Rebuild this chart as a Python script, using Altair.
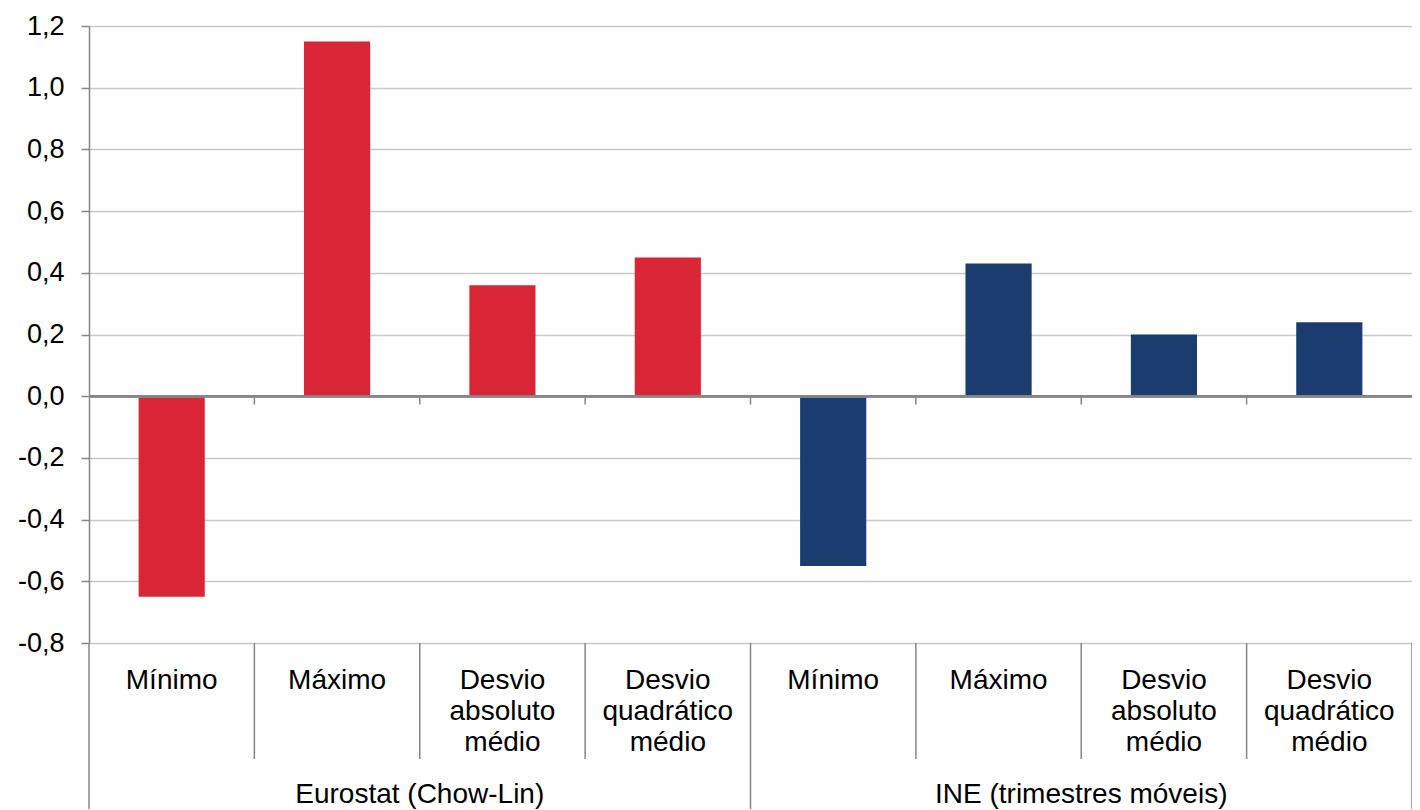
import altair as alt
import pandas as pd

# ---- data ----
categories = ["Mínimo", "Máximo", "Desvio\nabsoluto\nmédio", "Desvio\nquadrático\nmédio",
              "Mínimo", "Máximo", "Desvio\nabsoluto\nmédio", "Desvio\nquadrático\nmédio"]
groups = ["Eurostat (Chow-Lin)"] * 4 + ["INE (trimestres móveis)"] * 4
values = [-0.65, 1.15, 0.36, 0.45, -0.55, 0.43, 0.20, 0.24]
group_names = ["Eurostat (Chow-Lin)", "INE (trimestres móveis)"]
group_colors = ["#DA2536", "#1A3C6E"]
y_ticks = [-0.8, -0.6, -0.4, -0.2, 0.0, 0.2, 0.4, 0.6, 0.8, 1.0, 1.2]

W, H = 1323, 617
FONT = "Liberation Sans"

n = len(categories)
bars = pd.DataFrame({"idx": list(range(n)), "cat": categories, "grp": groups, "value": values})
grp_df = pd.DataFrame({"grp": group_names, "center": [2.0, 6.0]})
inner_b = pd.DataFrame({"b": [i for i in range(1, n) if i % 4 != 0]})
outer_b = pd.DataFrame({"b": [i for i in range(0, n + 1) if i % 4 == 0]})
zero_ticks = pd.DataFrame({"b": list(range(1, n))})

xscale = alt.Scale(domain=[0, n], nice=False, zero=False)
yscale = alt.Scale(domain=[-0.8, 1.2], nice=False, zero=False)

bar_layer = alt.Chart(bars).transform_calculate(
    lo="datum.idx + 0.3", hi="datum.idx + 0.7"
).mark_bar().encode(
    x=alt.X("lo:Q", scale=xscale, axis=None),
    x2="hi:Q",
    y=alt.Y("value:Q", scale=yscale, axis=alt.Axis(
        values=y_ticks, title=None,
        labelExpr="(datum.value < -0.0001 ? '-' : '') + replace(format(abs(datum.value), '.1f'), '.', ',')",
        labelFont=FONT, labelFontSize=27, labelColor="#000000", labelPadding=17,
        domainColor="#868686", domainWidth=1.5, tickColor="#868686", tickSize=8, tickWidth=1.5,
        gridColor="#c8c8c8", gridWidth=1.5, grid=True)),
    y2=alt.datum(0),
    color=alt.Color("grp:N", scale=alt.Scale(domain=group_names, range=group_colors), legend=None),
)

zero_line = alt.Chart(bars).mark_rule(color="#868686", strokeWidth=2).encode(
    y=alt.datum(0)
)

zero_tick_layer = alt.Chart(zero_ticks).mark_rule(color="#868686", strokeWidth=1.5).encode(
    x=alt.X("b:Q", scale=xscale, axis=None),
    y=alt.datum(0),
    y2=alt.datum(-0.027),
)

inner_sep = alt.Chart(inner_b).mark_rule(color="#868686", strokeWidth=1.5).encode(
    x=alt.X("b:Q", scale=xscale, axis=None),
    y=alt.value(H),
    y2=alt.value(H + 116),
)

outer_sep = alt.Chart(outer_b).mark_rule(color="#868686", strokeWidth=1.5).encode(
    x=alt.X("b:Q", scale=xscale, axis=None),
    y=alt.value(H),
    y2=alt.value(H + 190),
)

cat_text = alt.Chart(bars).transform_calculate(
    c="datum.idx + 0.5"
).mark_text(font=FONT, fontSize=28, color="#000000", align="center",
            baseline="alphabetic", lineBreak="\n", lineHeight=31).encode(
    x=alt.X("c:Q", scale=xscale, axis=None),
    y=alt.value(H + 46),
    text="cat:N",
)

grp_text = alt.Chart(grp_df).mark_text(font=FONT, fontSize=28, color="#000000", align="center",
                                       baseline="alphabetic").encode(
    x=alt.X("center:Q", scale=xscale, axis=None),
    y=alt.value(H + 160),
    text="grp:N",
)

chart = alt.layer(bar_layer, zero_line, zero_tick_layer, inner_sep, outer_sep, cat_text, grp_text).properties(
    width=W, height=H,
    autosize=alt.AutoSizeParams(type="none"),
    padding={"left": 81, "top": 18, "right": 0, "bottom": 166},
).configure_view(stroke=None).configure(background="#ffffff")

chart.save("out.html", embed_options={"renderer": "svg", "actions": False})
